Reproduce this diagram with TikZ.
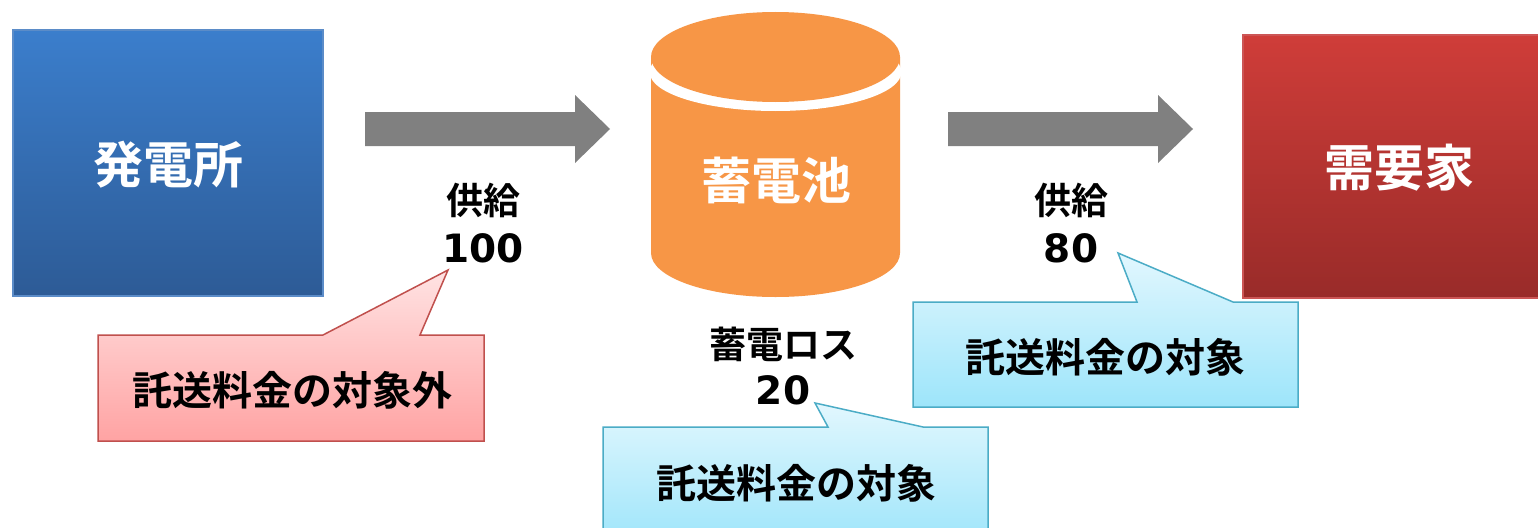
\documentclass[tikz,border=0pt]{standalone}
\usepackage{fontspec}
\newfontfamily\jp{Noto Sans CJK JP}[BoldFont={* Bold}]
\newfontfamily\digitfont{DejaVu Sans}
\definecolor{arrowgray}{HTML}{808080}
\definecolor{bluetop}{HTML}{3B7ECC}
\definecolor{bluebot}{HTML}{2D5B96}
\definecolor{blueedge}{HTML}{5B8CC8}
\definecolor{redtop}{HTML}{CF3D39}
\definecolor{redbot}{HTML}{992B29}
\definecolor{rededge}{HTML}{CC5555}
\definecolor{canorange}{HTML}{F79646}
\definecolor{pinktop}{HTML}{FFE3E3}
\definecolor{pinkbot}{HTML}{FFA3A3}
\definecolor{pinkedge}{HTML}{C0504D}
\definecolor{cyantop}{HTML}{E2F7FE}
\definecolor{cyanbot}{HTML}{9DE5FA}
\definecolor{cyanedge}{HTML}{4BACC6}
\tikzset{
  bigtxt/.style={font=\jp\bfseries\fontsize{50}{60}\selectfont, text=white, inner sep=0pt},
  lbltxt/.style={font=\jp\bfseries\fontsize{37}{49}\selectfont, text=black, align=center, inner sep=0pt},
  numtxt/.style={font=\digitfont\bfseries\fontsize{39}{47}\selectfont, text=black, inner sep=0pt},
  calltxt/.style={font=\jp\bfseries\fontsize{40}{48}\selectfont, text=black, inner sep=0pt},
  bluebox/.style={top color=bluetop, bottom color=bluebot, draw=blueedge, line width=1.5pt},
  redbox/.style={top color=redtop, bottom color=redbot, draw=rededge, line width=1.5pt},
  pinkcall/.style={top color=pinktop, bottom color=pinkbot, draw=pinkedge, line width=1.5pt, line join=miter},
  cyancall/.style={top color=cyantop, bottom color=cyanbot, draw=cyanedge, line width=1.5pt, line join=miter},
  blockarrow/.style={fill=arrowgray, draw=none},
}
\begin{document}
\begin{tikzpicture}[x=1pt,y=-1pt]
\useasboundingbox (0,0) rectangle (1538,527);
\fill[white] (0,0) rectangle (1538,527);

% power plant
\path[bluebox] (13,30) rectangle (323,296);
\node[bigtxt] (plant) at (168,165) {発電所};

% consumer
\path[redbox] (1243,35) rectangle (1545,298);
\node[bigtxt] (consumer) at (1399,168) {需要家};

% battery cylinder
\fill[canorange] (651,57) -- (651,253) arc[start angle=180,end angle=0,x radius=124.5,y radius=44] -- (900,57) -- cycle;
\fill[white] (775.5,72) ellipse[x radius=126,y radius=39];
\fill[canorange] (775.5,57) ellipse[x radius=124.5,y radius=45];
\node[bigtxt] (battery) at (776,180) {蓄電池};

% block arrows
\path[blockarrow] (365,112) -- (575,112) -- (575,95) -- (610,129) -- (575,163) -- (575,146) -- (365,146) -- cycle;
\path[blockarrow] (948,112) -- (1158,112) -- (1158,95) -- (1193,129) -- (1158,163) -- (1158,146) -- (948,146) -- cycle;

% labels
\node[lbltxt] (sup1) at (483,200) {供給};
\node[numtxt] (v100) at (483,248) {100};
\node[lbltxt] (sup2) at (1071,200) {供給};
\node[numtxt] (v80) at (1071,248) {80};
\node[lbltxt] (loss) at (783,344) {蓄電ロス};
\node[numtxt] (v20) at (783,390) {20};

% callouts
\coordinate (tip1) at (448,270);
\coordinate (tip2) at (815,403);
\coordinate (tip3) at (1118,253);
\path[pinkcall] (98,335) -- (323,335) -- (tip1) -- (420,335) -- (484,335) -- (484,441) -- (98,441) -- cycle;
\node[calltxt] (out) at (292,390) {託送料金の対象外};

\path[cyancall] (603,427) -- (828,427) -- (tip2) -- (923,427) -- (988,427) -- (988,545) -- (603,545) -- cycle;
\node[calltxt] (in1) at (796,483) {託送料金の対象};

\path[cyancall] (913,302) -- (1137,302) -- (tip3) -- (1233,302) -- (1298,302) -- (1298,407) -- (913,407) -- cycle;
\node[calltxt] (in2) at (1105,357) {託送料金の対象};
\end{tikzpicture}
\end{document}
